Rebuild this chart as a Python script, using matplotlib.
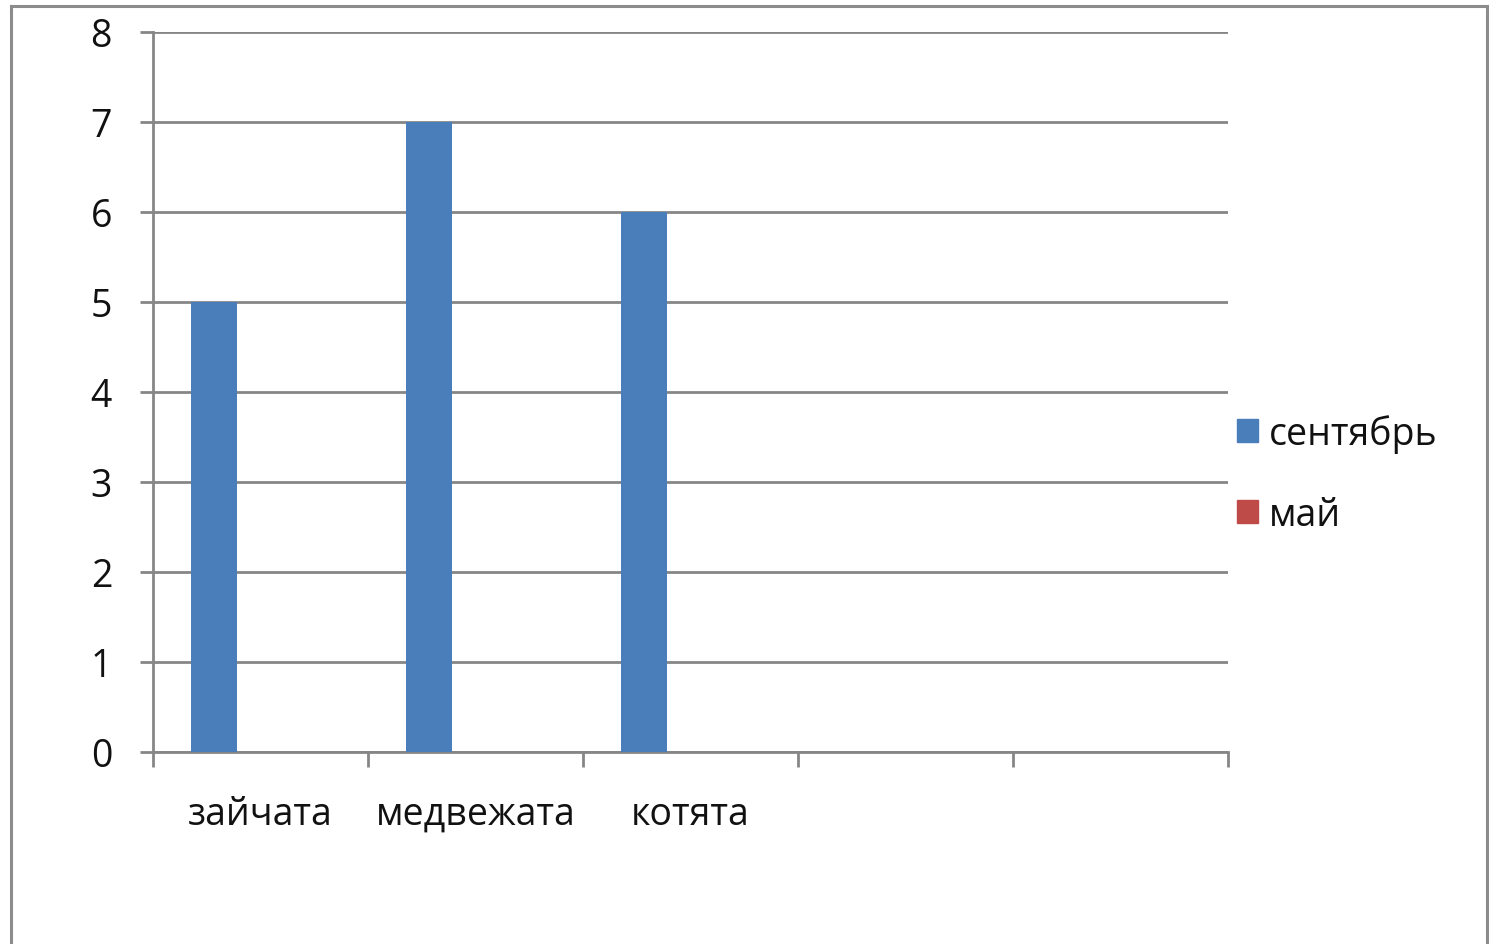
import matplotlib
matplotlib.use('Agg')
import matplotlib.pyplot as plt
from matplotlib.patches import Patch
import numpy as np

categories = ['зайчата', 'медвежата', 'котята', '', '']
september = [5, 7, 6, 0, 0]
may = [0, 0, 0, 0, 0]
series_names = ['сентябрь', 'май']
y_ticks = [0, 1, 2, 3, 4, 5, 6, 7, 8]

blue = '#4A7EBB'
red = '#BE4B48'
grey = '#868686'
txt = '#111111'
fs = 27

plt.rcParams['font.family'] = ['Open Sans', 'DejaVu Sans']

fig = plt.figure(figsize=(14.89, 9.45), dpi=100)
ax = fig.add_axes((0.1028, 0.2032, 0.8247 - 0.1028, 0.9651 - 0.2032))

x = np.arange(len(categories))
bw = 0.215
ax.bar(x - bw, september, width=bw, color=blue, zorder=3)
ax.bar(x, may, width=bw, color=red, zorder=3)

ax.set_xlim(-0.5, len(categories) - 0.5)
ax.set_ylim(0, 8)

ax.set_yticks(y_ticks)
ax.set_yticklabels([str(t) for t in y_ticks])
ax.yaxis.grid(True, color=grey, linewidth=2, zorder=0)
ax.set_axisbelow(True)

# category boundaries get ticks, centers get labels
ax.set_xticks(np.arange(-0.5, len(categories)))
ax.set_xticklabels([])
ax.set_xticks(x, minor=True)
ax.set_xticklabels(categories, minor=True)
ax.tick_params(axis='x', which='major', length=11, width=2, color=grey, direction='out')
ax.tick_params(axis='x', which='minor', length=0, pad=31, labelsize=fs, labelcolor=txt)
ax.tick_params(axis='y', length=9.5, width=2, color=grey, pad=20, labelsize=fs, labelcolor=txt)

for s in ['top', 'right']:
    ax.spines[s].set_visible(False)
for s in ['left', 'bottom']:
    ax.spines[s].set_color(grey)
    ax.spines[s].set_linewidth(2)

handles = [Patch(color=blue), Patch(color=red)]
fig.legend(handles, series_names, loc='center left', bbox_to_anchor=(0.831, 0.4975),
           frameon=False, fontsize=fs, handlelength=0.56, handleheight=0.56,
           handletextpad=0.29, labelspacing=1.15, borderpad=0, borderaxespad=0,
           labelcolor=txt)

# frame round the chart (open at the bottom)
W, H = 1489, 945
fig.add_artist(plt.Line2D([11 / W, 11 / W], [0, 1 - 7 / H], color='#8c8c8c', lw=2.2, transform=fig.transFigure))
fig.add_artist(plt.Line2D([11 / W, 1487 / W], [1 - 7 / H, 1 - 7 / H], color='#8c8c8c', lw=2.2, transform=fig.transFigure))
fig.add_artist(plt.Line2D([1487 / W, 1487 / W], [0, 1 - 7 / H], color='#8c8c8c', lw=2.2, transform=fig.transFigure))

fig.savefig('out.png', dpi=100)
